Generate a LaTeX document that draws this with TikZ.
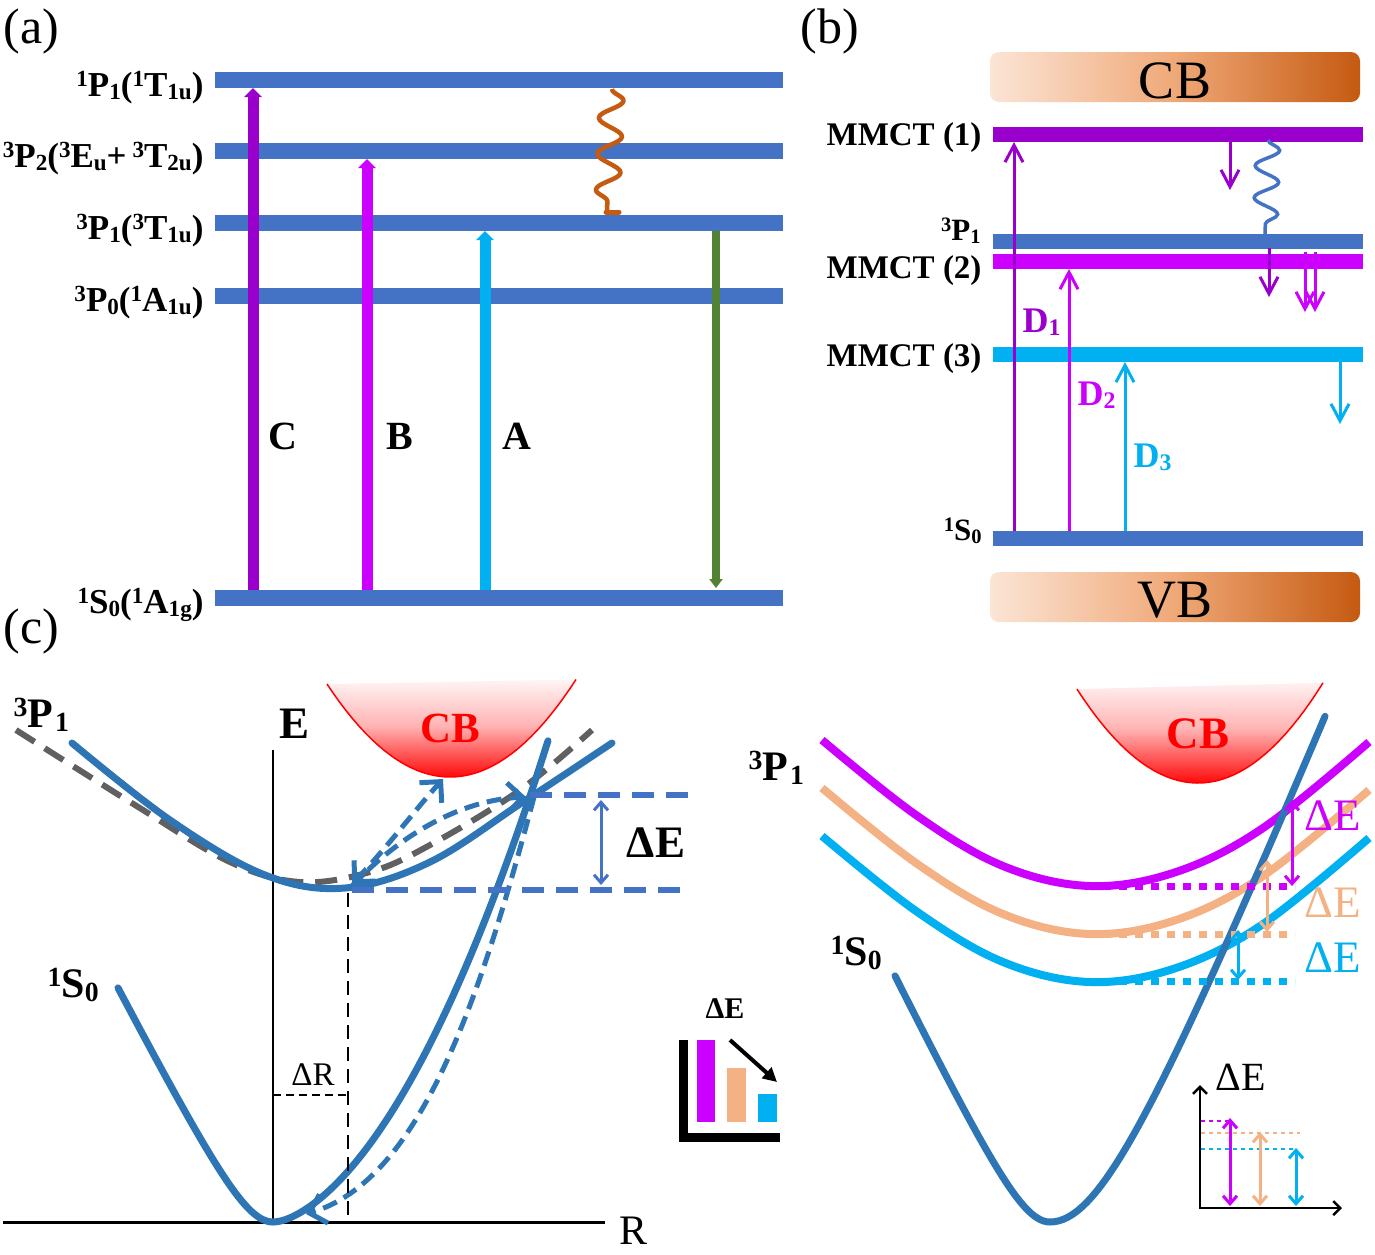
\documentclass[tikz,border=0pt]{standalone}
\usepackage{fontspec}
\setmainfont{Liberation Serif}
\usetikzlibrary{arrows.meta,decorations.pathmorphing}
\definecolor{barblue}{HTML}{4472C4}
\definecolor{cblue}{HTML}{2E75B6}
\definecolor{vio}{HTML}{9900CC}
\definecolor{mag}{HTML}{CC00FF}
\definecolor{cya}{HTML}{00B0F0}
\definecolor{grn}{HTML}{548235}
\definecolor{org}{HTML}{C55A11}
\definecolor{peach}{HTML}{F4B183}
\definecolor{lpeach}{HTML}{FBE5D6}
\definecolor{gry}{HTML}{606060}
\newcommand\fsz[1]{\fontsize{#1}{#1}\selectfont}
\newcommand\up[1]{\raisebox{0.26em}{\scalebox{0.66}{#1}}}
\newcommand\dn[1]{\raisebox{-0.1em}{\scalebox{0.66}{#1}}}
\begin{document}
\begin{tikzpicture}[x=1pt,y=-1pt,
  lvlA/.style={line width=16pt, barblue},
  lvlB/.style={line width=15pt},
  thickarr/.style={line width=11pt, -{Triangle[width=17pt,length=9pt]}},
  thinarr/.style={line width=3pt, -{Straight Barb[length=17pt,width=18pt]}},
  dblarr/.style={line width=3pt, {Straight Barb[length=8pt,width=14pt]}-{Straight Barb[length=8pt,width=14pt]}},
  lab/.style={font=\fsz{35}\bfseries},
  curve/.style={line width=7pt, line cap=round, line join=round},
  dashb/.style={line width=6pt, barblue, dash pattern=on 22pt off 12pt},
  dotl/.style={line width=7pt, dash pattern=on 8pt off 8pt},
  dasharr/.style={cblue, line width=5pt, dash pattern=on 15pt off 8pt},
  vtip/.tip={Straight Barb[length=15pt,width=30pt]}
]
\useasboundingbox (0,0) rectangle (1375,1254);
% ---------------- panel (a)
\node[anchor=base west, font=\fsz{50}] (pa) at (0,43) {(a)};
\foreach \y/\n in {80/1,151/2,223/3,296/4,598/5}
  \draw[lvlA] (215,\y) coordinate (aL\n) -- (783,\y) coordinate (aR\n);
\node[lab, anchor=base east] (la1) at (207,96) {\up{1}P\dn{1}(\up{1}T\dn{1u})};
\node[lab, anchor=base east] (la2) at (207,167) {\up{3}P\dn{2}(\up{3}E\dn{u}+\,\up{3}T\dn{2u})};
\node[lab, anchor=base east] (la3) at (207,239) {\up{3}P\dn{1}(\up{3}T\dn{1u})};
\node[lab, anchor=base east] (la4) at (207,311) {\up{3}P\dn{0}(\up{1}A\dn{1u})};
\node[lab, anchor=base east] (la5) at (207,613) {\up{1}S\dn{0}(\up{1}A\dn{1g})};
\draw[thickarr, vio] (253,590) coordinate (cS) -- (253,88) coordinate (cT);
\draw[thickarr, mag] (367,590) coordinate (bS) -- (367,159) coordinate (bT);
\draw[thickarr, cya] (485,590) coordinate (aS) -- (485,231) coordinate (aT);
\draw[line width=8pt, grn, -{Triangle[width=13pt,length=9pt]}] (716,231) coordinate (gS) -- (716,588) coordinate (gT);
\node[font=\fsz{40}\bfseries] (lC) at (283,436) {C};
\node[font=\fsz{40}\bfseries] (lB) at (400,436) {B};
\node[font=\fsz{40}\bfseries] (lA) at (517,436) {A};
\draw[org, line width=4.5pt, line join=round, decorate, decoration={snake, amplitude=12pt, segment length=36pt, post length=4pt}] (612,89) coordinate (wS) -- (607,211) coordinate (wT);
\draw[org, line width=5pt, line cap=round] (606,212) -- (619,212);
% ---------------- panel (b)
\node[anchor=base west, font=\fsz{50}] (pb) at (797,43) {(b)};
\shade[left color=lpeach, right color=org, middle color=peach!90!org, rounded corners=9pt] (990,52) rectangle (1360,102);
\node[anchor=base, font=\fsz{54}] (cbB) at (1175,98) {CB};
\shade[left color=lpeach, right color=org, middle color=peach!90!org, rounded corners=9pt] (990,572) rectangle (1360,622);
\node[anchor=base, font=\fsz{54}] (vbB) at (1175,617) {VB};
\draw[lvlB, vio] (993,134) -- (1363,134);
\draw[lvlB, barblue] (993,241) -- (1363,241);
\draw[lvlB, mag] (993,261) -- (1363,261);
\draw[lvlB, cya] (993,354) -- (1363,354);
\draw[lvlB, barblue] (993,538) -- (1363,538);
\node[font=\fsz{33}\bfseries, anchor=base east] (m1) at (985,145) {MMCT (1)};
\node[font=\fsz{31}\bfseries, anchor=base east] (p31) at (984,240) {\up{3}P\dn{1}};
\node[font=\fsz{33}\bfseries, anchor=base east] (m2) at (985,278) {MMCT (2)};
\node[font=\fsz{33}\bfseries, anchor=base east] (m3) at (985,366) {MMCT (3)};
\node[font=\fsz{31}\bfseries, anchor=base east] (s0b) at (985,540) {\up{1}S\dn{0}};
\draw[thinarr, vio] (1014,531) -- (1014,142);
\draw[thinarr, mag] (1069,531) -- (1069,269);
\draw[thinarr, cya] (1125,531) -- (1125,362);
\node[font=\fsz{36}\bfseries, anchor=base west, vio] (d1) at (1019,332) {D\dn{1}};
\node[font=\fsz{36}\bfseries, anchor=base west, mag] (d2) at (1074,405) {D\dn{2}};
\node[font=\fsz{36}\bfseries, anchor=base west, cya] (d3) at (1130,467) {D\dn{3}};
\draw[thinarr, vio] (1230,142) -- (1230,190);
\draw[barblue, line width=3.5pt, decorate, decoration={snake, amplitude=12pt, segment length=32pt}] (1268,140) -- (1265,234);
\draw[thinarr, vio] (1269,248) -- (1269,297);
\draw[thinarr, mag] (1305,252) -- (1305,312);
\draw[thinarr, mag] (1315,252) -- (1315,312);
\draw[thinarr, cya] (1340,362) -- (1340,424);
% ---------------- panel (c) left
\node[anchor=base west, font=\fsz{50}] (pc) at (0,643) {(c)};
\begin{scope}
\clip plot[domain=327:576, samples=40] (\x, {777-96*((\x-450)/125)^2}) -- cycle;
\shade[top color=white, bottom color=red, middle color=red!30] (320,672) rectangle (580,780);
\end{scope}
\draw[red, line width=1.5pt] plot[domain=327:576, samples=40] (\x, {777-96*((\x-450)/125)^2});
\node[font=\fsz{43}\bfseries, text=red, anchor=base] (cbL) at (450,742) {CB};
\draw[line width=2.5pt] (273,750) -- (273,1222);
\draw[line width=3pt] (3,1222) coordinate (rL) -- (605,1222) coordinate (rR);
\node[font=\fsz{45}\bfseries, anchor=base] (eL) at (295,738) {E};
\node[font=\fsz{42}, anchor=base, inner sep=0pt] (rLab) at (633,1244) {R};
\draw[gry, line width=6pt, dash pattern=on 22pt off 12pt] plot[smooth, tension=0.6] coordinates {(16,730) (135,805) (230,862) (300,882) (370,872) (430,845) (520,790) (592,730)};
\draw[cblue, curve] plot[smooth, tension=0.6] coordinates {(72,743) (170,820) (265,875) (345,888) (430,862) (523,802) (612,743)};
\draw[cblue, curve] plot[domain=118:273, samples=50] (\x, {1222-78*(sqrt(1+((273-\x)/40)^2)-1)})
  -- plot[domain=273:548, samples=60] (\x, {1222-(40*((\x-273)/100)^2/((\x-273)/100+0.25)+50.3*((\x-273)/100)^2)});
\draw[dasharr, -vtip] (534,797) .. controls (480,1000) and (420,1180) .. (306,1214);
\draw[dasharr, vtip-vtip] (352,884) .. controls (385,850) and (415,810) .. (443,779);
\draw[dasharr, -vtip] (352,886) .. controls (400,835) and (460,800) .. (526,797);
\draw[dashb] (530,795) -- (690,795);
\draw[dashb] (352,890) -- (690,890);
\draw[dblarr, barblue] (601,800) -- (601,885);
\node[font=\fsz{45}\bfseries, anchor=base] (deL) at (656,857) {ΔE};
\draw[line width=2.5pt, dash pattern=on 14pt off 8pt] (348,893) -- (348,1222);
\draw[line width=2.5pt, dash pattern=on 8pt off 5pt] (273,1095) -- (348,1095);
\node[font=\fsz{33}, anchor=base] (dR) at (313,1085) {ΔR};
\node[font=\fsz{42}\bfseries, anchor=base west] (p3L) at (10,727) {\up{3}P\kern2pt\dn{1}};
\node[font=\fsz{42}\bfseries, anchor=base west] (s0L) at (44,997) {\up{1}S\dn{0}};
% left inset
\draw[line width=9pt] (683,1040) -- (683,1137) -- (780,1137);
\fill[mag] (697,1040) rectangle (715,1122);
\fill[peach] (727,1068) rectangle (746,1122);
\fill[cya] (758,1094) rectangle (777,1122);
\draw[line width=4pt, -{Triangle[width=14pt,length=14pt]}] (730,1040) -- (777,1082);
\node[font=\fsz{30}\bfseries, anchor=base] (deI) at (725,1018) {ΔE};
% ---------------- panel (c) right
\begin{scope}
\clip plot[domain=1077:1323, samples=40] (\x, {783-97*((\x-1198)/123)^2}) -- cycle;
\shade[top color=white, bottom color=red, middle color=red!30] (1070,672) rectangle (1330,786);
\end{scope}
\draw[red, line width=1.5pt] plot[domain=1077:1323, samples=40] (\x, {783-97*((\x-1198)/123)^2});
\node[font=\fsz{45}\bfseries, text=red, anchor=base] (cbR) at (1198,748) {CB};
\draw[mag, line width=8pt] plot[smooth, tension=0.6] coordinates {(822,740) (916,815) (1003,866) (1090,886) (1176,872) (1263,828) (1369,742)};
\draw[peach, line width=8pt, shift={(0,48)}] plot[smooth, tension=0.6] coordinates {(822,740) (916,815) (1003,866) (1090,886) (1176,872) (1263,828) (1369,742)};
\draw[cya, line width=8pt, shift={(0,96)}] plot[smooth, tension=0.6] coordinates {(822,740) (916,815) (1003,866) (1090,886) (1176,872) (1263,828) (1369,742)};
\draw[cblue, curve] plot[domain=895:1050, samples=50] (\x, {1222-82*(sqrt(1+((1050-\x)/40)^2)-1)})
  -- plot[domain=1050:1325, samples=60] (\x, {1222-196*(sqrt(1+((\x-1050)/80)^2)-1)});
\draw[mag, dotl] (1087,886) -- (1295,886);
\draw[peach, dotl] (1087,934) -- (1295,934);
\draw[cya, dotl] (1087,981) -- (1295,981);
\draw[dblarr, mag] (1292,800) -- (1292,886);
\draw[dblarr, peach] (1267,860) -- (1267,932);
\draw[dblarr, cya] (1238,930) -- (1238,980);
\node[font=\fsz{45}, text=mag, anchor=base] (de1) at (1333,830) {ΔE};
\node[font=\fsz{45}, text=peach, anchor=base] (de2) at (1333,917) {ΔE};
\node[font=\fsz{45}, text=cya, anchor=base] (de3) at (1333,972) {ΔE};
\node[font=\fsz{42}\bfseries, anchor=base west] (p3R) at (745,780) {\up{3}P\kern2pt\dn{1}};
\node[font=\fsz{42}\bfseries, anchor=base west] (s0R) at (827,965) {\up{1}S\dn{0}};
% right inset
\draw[line width=2.5pt, {Straight Barb[length=7pt,width=14pt]}-{Straight Barb[length=7pt,width=14pt]}] (1200,1085) -- (1200,1208) -- (1342,1208);
\draw[mag, line width=2.5pt, dash pattern=on 4pt off 4pt] (1201,1121) -- (1228,1121);
\draw[peach, line width=2.5pt, dash pattern=on 4pt off 4pt] (1201,1133) -- (1300,1133);
\draw[cya, line width=2.5pt, dash pattern=on 4pt off 4pt] (1201,1149) -- (1297,1149);
\draw[dblarr, mag] (1230,1118) -- (1230,1206);
\draw[dblarr, peach] (1260,1132) -- (1260,1206);
\draw[dblarr, cya] (1296,1148) -- (1296,1206);
\node[font=\fsz{40}, anchor=base west] (deR) at (1212,1090) {ΔE};
\end{tikzpicture}
\end{document}
